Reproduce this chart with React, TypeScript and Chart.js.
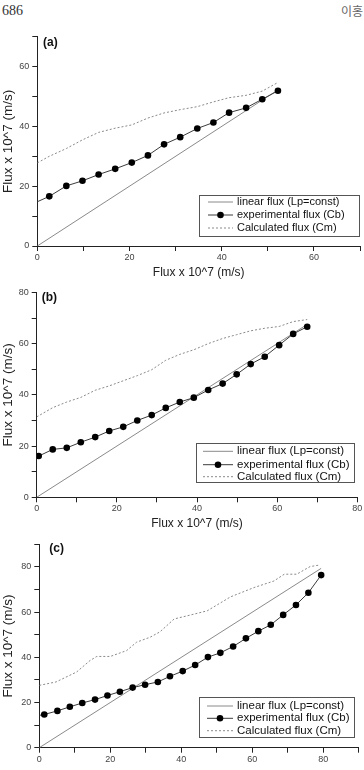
import React, { useEffect, useRef } from "react";
import { Chart, registerables } from "chart.js";

Chart.register(...registerables);

const FONT = '"Liberation Sans", Arial, Helvetica, sans-serif';

// ---------- shared text ----------
const LEGEND_LABELS = ["linear flux (Lp=const)", "experimental flux (Cb)", "Calculated flux (Cm)"];
const X_TITLE = "Flux x 10^7 (m/s)";
const Y_TITLE = "Flux x 10^7 (m/s)";
const PANEL_LABELS = ["(a)", "(b)", "(c)"];
const PAGE_NUMBER = "686";
const PAGE_AUTHOR = "이홍";
const TICK_STEP = 10;
const LABEL_STEP = 20;

// ---------- panel (a) ----------
const A_X_MAX = 70;
const A_Y_MAX = 70;
const A_LIN_X = [0, 52];
const A_LIN_Y = [0, 52];
const A_EXP_X = [0, 2.6, 6.3, 9.8, 13.3, 16.9, 20.5, 24.0, 27.5, 31.0, 34.7, 38.2, 41.6, 45.3, 48.8, 52.2];
const A_EXP_Y = [14.8, 16.6, 20.1, 21.8, 23.9, 25.8, 27.9, 30.3, 34.0, 36.4, 39.3, 41.3, 44.6, 46.2, 49.1, 51.9];
const A_CAL_X = [0, 2.6, 6.3, 9.8, 13.3, 16.9, 20.5, 24.0, 27.5, 31.0, 34.7, 38.2, 41.6, 45.3, 48.8, 52.2];
const A_CAL_Y = [27.8, 30.0, 32.6, 35.5, 38.0, 39.4, 40.5, 42.8, 44.5, 45.6, 46.6, 48.2, 49.6, 50.4, 51.8, 54.7];

// ---------- panel (b) ----------
const B_X_MAX = 80;
const B_Y_MAX = 80;
const B_LIN_X = [0, 67.5];
const B_LIN_Y = [0, 67.5];
const B_EXP_X = [0.5, 4.0, 7.5, 11.0, 14.6, 18.1, 21.6, 25.1, 28.7, 32.2, 35.7, 39.2, 42.8, 46.4, 49.9, 53.4, 56.9, 60.5, 64.0, 67.5];
const B_EXP_Y = [16.1, 18.7, 19.3, 21.5, 23.5, 25.9, 27.5, 30.0, 32.1, 34.9, 37.2, 38.9, 41.9, 44.4, 48.0, 52.0, 54.9, 59.4, 63.8, 66.6];
const B_CAL_X = [0, 4.0, 7.5, 11.0, 14.6, 18.1, 21.6, 25.1, 28.7, 32.2, 35.7, 39.2, 42.8, 46.4, 49.9, 53.4, 56.9, 60.5, 64.0, 67.5];
const B_CAL_Y = [31.4, 35.0, 37.2, 39.0, 41.8, 43.5, 45.5, 47.5, 49.8, 53.5, 55.8, 57.6, 60.0, 62.0, 63.5, 65.0, 66.0, 66.7, 68.6, 69.4];

// ---------- panel (c) ----------
const C_X_MAX = 90;
const C_Y_MAX = 90;
const C_LIN_X = [0, 79.4];
const C_LIN_Y = [0, 79.4];
const C_EXP_X = [0, 1.4, 5.1, 8.6, 12.1, 15.7, 19.2, 22.7, 26.3, 29.8, 33.4, 36.8, 40.4, 43.9, 47.5, 51.0, 54.6, 58.2, 61.7, 65.2, 68.7, 72.3, 75.8, 79.4];
const C_EXP_Y = [14.3, 14.7, 16.3, 18.1, 19.8, 21.3, 23.1, 24.8, 26.6, 27.9, 29.1, 31.6, 33.9, 36.6, 40.1, 42.0, 44.8, 48.4, 51.6, 54.4, 58.8, 63.2, 68.6, 76.4];
const C_CAL_X = [0, 4.7, 10.5, 14.3, 16.2, 20.0, 24.6, 27.4, 31.2, 34.0, 38.0, 41.7, 47.3, 53.9, 60.5, 66.1, 69.0, 72.5, 76.3, 79.1];
const C_CAL_Y = [27.6, 29.1, 33.5, 38.6, 40.4, 40.4, 43.0, 46.7, 48.9, 51.3, 57.0, 58.4, 60.6, 66.8, 70.9, 73.8, 76.8, 76.8, 80.2, 80.9];

const zip = (xs: number[], ys: number[]) => xs.map((x, i) => ({ x, y: ys[i] }));

type Panel = {
  xMax: number; yMax: number;
  linX: number[]; linY: number[];
  expX: number[]; expY: number[]; expHideFirst: boolean;
  calX: number[]; calY: number[];
  canvasTop: number; canvasH: number;
  area: { left: number; right: number; top: number; bottom: number };
  xTitle: boolean; xTitlePad: number;
  legend: { box: number[]; rows: number[]; sample: number[]; textX: number; fontSize: number };
  label: { text: string; left: number; cy: number };
};

const PANELS: Panel[] = [
  {
    xMax: A_X_MAX, yMax: A_Y_MAX, linX: A_LIN_X, linY: A_LIN_Y,
    expX: A_EXP_X, expY: A_EXP_Y, expHideFirst: true, calX: A_CAL_X, calY: A_CAL_Y,
    canvasTop: 28, canvasH: 256,
    area: { left: 37.3, right: 361.7, top: 36.7, bottom: 246 },
    xTitle: true, xTitlePad: 3.8,
    legend: { box: [199, 195, 359, 236], rows: [202, 215, 228], sample: [208, 233], textX: 237, fontSize: 11 },
    label: { text: PANEL_LABELS[0], left: 43, cy: 41.5 },
  },
  {
    xMax: B_X_MAX, yMax: B_Y_MAX, linX: B_LIN_X, linY: B_LIN_Y,
    expX: B_EXP_X, expY: B_EXP_Y, expHideFirst: false, calX: B_CAL_X, calY: B_CAL_Y,
    canvasTop: 284, canvasH: 252,
    area: { left: 36.7, right: 357.3, top: 291.7, bottom: 497.3 },
    xTitle: true, xTitlePad: 4.8,
    legend: { box: [196, 443, 354, 482], rows: [451.3, 464.7, 476.7], sample: [203, 233], textX: 237, fontSize: 11.5 },
    label: { text: PANEL_LABELS[1], left: 41.7, cy: 296.7 },
  },
  {
    xMax: C_X_MAX, yMax: C_Y_MAX, linX: C_LIN_X, linY: C_LIN_Y,
    expX: C_EXP_X, expY: C_EXP_Y, expHideFirst: true, calX: C_CAL_X, calY: C_CAL_Y,
    canvasTop: 536, canvasH: 234,
    area: { left: 39.3, right: 358.8, top: 543.4, bottom: 747.7 },
    xTitle: false, xTitlePad: 0,
    legend: { box: [199, 697, 354, 737], rows: [706, 718.3, 730.7], sample: [207, 233], textX: 237, fontSize: 11.5 },
    label: { text: PANEL_LABELS[2], left: 49.3, cy: 548.3 },
  },
];

const boxLegendPlugin = {
  id: "boxLegend",
  afterDatasetsDraw(chart: any, _args: any, opts: any) {
    const ctx = chart.ctx as CanvasRenderingContext2D;
    const [x1, y1, x2, y2] = opts.box;
    ctx.save();
    ctx.fillStyle = "#fff";
    ctx.fillRect(x1, y1, x2 - x1, y2 - y1);
    ctx.strokeStyle = "#555";
    ctx.lineWidth = 1;
    ctx.strokeRect(Math.round(x1) + 0.5, Math.round(y1) + 0.5, Math.round(x2 - x1), Math.round(y2 - y1));
    chart.data.datasets.forEach((ds: any, i: number) => {
      const y = opts.rows[i];
      ctx.beginPath();
      ctx.setLineDash(ds.borderDash || []);
      ctx.strokeStyle = ds.borderColor;
      ctx.lineWidth = ds.borderWidth;
      ctx.moveTo(opts.sample[0], y);
      ctx.lineTo(opts.sample[1], y);
      ctx.stroke();
      ctx.setLineDash([]);
      if (opts.points[i]) {
        ctx.beginPath();
        ctx.fillStyle = "#000";
        ctx.arc((opts.sample[0] + opts.sample[1]) / 2, y, 3.3, 0, Math.PI * 2);
        ctx.fill();
      }
      ctx.fillStyle = "#111";
      ctx.font = `${opts.fontSize}px ${FONT}`;
      ctx.textBaseline = "middle";
      ctx.textAlign = "left";
      ctx.fillText(ds.label, opts.textX, y);
    });
    ctx.restore();
  },
};

function makeChart(canvas: HTMLCanvasElement, p: Panel) {
  const W = 364;
  const top = p.canvasTop;
  const axisColor = "#222";
  const tickFont = { family: FONT, size: 9 };
  const labelCb = (v: any) => (Number(v) % LABEL_STEP === 0 ? String(v) : "");
  return new Chart(canvas, {
    type: "scatter",
    data: {
      datasets: [
        {
          label: LEGEND_LABELS[0],
          data: zip(p.linX, p.linY),
          showLine: true,
          borderColor: "#8a8a8a",
          borderWidth: 1,
          pointRadius: 0,
          order: 3,
        },
        {
          label: LEGEND_LABELS[1],
          data: zip(p.expX, p.expY),
          showLine: true,
          borderColor: "#3c3c3c",
          borderWidth: 1,
          pointRadius: (c: any) => (p.expHideFirst && c.dataIndex === 0 ? 0 : 3.3),
          pointBackgroundColor: "#000",
          pointBorderWidth: 0,
          order: 1,
        },
        {
          label: LEGEND_LABELS[2],
          data: zip(p.calX, p.calY),
          showLine: true,
          borderColor: "#8a8a8a",
          borderWidth: 1,
          borderDash: [2, 2],
          pointRadius: 0,
          order: 2,
        },
      ] as any,
    },
    options: {
      responsive: false,
      animation: false,
      devicePixelRatio: 1,
      events: [],
      layout: { padding: { top: p.area.top - top, right: W - p.area.right, left: 0, bottom: 0 } },
      plugins: {
        legend: { display: false },
        tooltip: { enabled: false },
        boxLegend: {
          box: [p.legend.box[0], p.legend.box[1] - top, p.legend.box[2], p.legend.box[3] - top],
          rows: p.legend.rows.map((r) => r - top),
          sample: p.legend.sample,
          textX: p.legend.textX,
          fontSize: p.legend.fontSize,
          points: [false, true, false],
        },
      } as any,
      scales: {
        x: {
          type: "linear",
          min: 0,
          max: p.xMax,
          afterFit: (s: any) => {
            s.height = top + p.canvasH - p.area.bottom;
          },
          ticks: { stepSize: TICK_STEP, autoSkip: false, maxRotation: 0, callback: labelCb, font: tickFont, color: "#444", padding: 1 },
          grid: { drawOnChartArea: false, tickLength: 5, tickColor: axisColor, color: axisColor },
          border: { color: axisColor, width: 1 },
          title: {
            display: p.xTitle,
            text: X_TITLE,
            font: { family: FONT, size: 12 },
            color: "#222",
            padding: { top: 0, bottom: p.xTitlePad },
          },
        },
        y: {
          type: "linear",
          min: 0,
          max: p.yMax,
          afterFit: (s: any) => {
            s.width = p.area.left;
          },
          ticks: { stepSize: TICK_STEP, autoSkip: false, callback: labelCb, font: tickFont, color: "#444", padding: 3 },
          grid: { drawOnChartArea: false, tickLength: 5, tickColor: axisColor, color: axisColor },
          border: { color: axisColor, width: 1 },
          title: {
            display: true,
            text: Y_TITLE,
            font: { family: FONT, size: 13.5 },
            color: "#222",
            padding: { top: 0, bottom: 0 },
          },
        },
      } as any,
    },
    plugins: [boxLegendPlugin as any],
  });
}

function PanelChart({ p }: { p: Panel }) {
  const ref = useRef<HTMLCanvasElement | null>(null);
  useEffect(() => {
    if (!ref.current) return;
    const chart = makeChart(ref.current, p);
    return () => chart.destroy();
  }, [p]);
  return (
    <>
      <canvas
        ref={ref}
        width={364}
        height={p.canvasH}
        style={{ position: "absolute", left: 0, top: p.canvasTop, width: 364, height: p.canvasH }}
      />
      <div
        style={{
          position: "absolute",
          left: p.label.left,
          top: p.label.cy - 7,
          height: 14,
          lineHeight: "14px",
          font: `bold 12px ${FONT}`,
          color: "#111",
          whiteSpace: "nowrap",
        }}
      >
        {p.label.text}
      </div>
    </>
  );
}

export default function App() {
  return (
    <div
      style={{
        position: "absolute",
        left: 0,
        top: 0,
        width: 364,
        height: 770,
        overflow: "hidden",
        background: "#fff",
      }}
    >
      <div
        style={{
          position: "absolute",
          left: 2,
          top: 3,
          font: '14px "Liberation Serif", "Times New Roman", serif',
          color: "#333",
          lineHeight: "16px",
        }}
      >
        {PAGE_NUMBER}
      </div>
      <div
        style={{
          position: "absolute",
          left: 341,
          top: 3,
          font: '12px "Noto Sans CJK KR", sans-serif',
          color: "#666",
          lineHeight: "16px",
          whiteSpace: "nowrap",
        }}
      >
        {PAGE_AUTHOR}
      </div>
      {PANELS.map((p, i) => (
        <PanelChart key={i} p={p} />
      ))}
    </div>
  );
}
